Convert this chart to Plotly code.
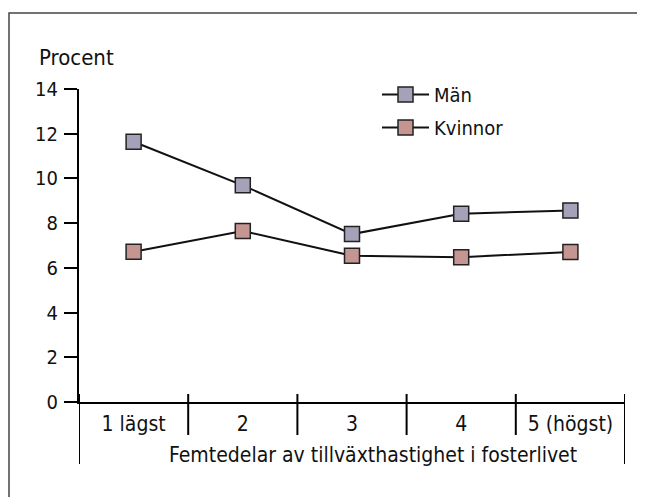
import plotly.graph_objects as go

categories = ["1 lägst", "2", "3", "4", "5 (högst)"]
man = [11.64, 9.69, 7.51, 8.42, 8.57]
kvinnor = [6.72, 7.65, 6.54, 6.48, 6.71]
y_ticks = [0, 2, 4, 6, 8, 10, 12, 14]
x_title = "Femtedelar av tillväxthastighet i fosterlivet"
y_title = "Procent"

W, H = 645, 497
OFF = 8  # page body margin
PL, PR, PT, PB = 79, 625, 89, 402
L, T = PL - OFF, PT - OFF
pw, ph = PR - PL, PB - PT
R, B = W - L - pw, H - T - ph
FONT = "DejaVu Sans Condensed, Liberation Sans Narrow, Arial Narrow, sans-serif"

def px_x(p):
    return (p - PL) / pw

def px_y(p):
    return (PB - p) / ph

xs = list(range(1, len(categories) + 1))

fig = go.Figure()
fig.add_trace(go.Scatter(
    x=xs, y=man, name="Män", mode="lines+markers", legendgroup="m",
    line=dict(color="#111111", width=2),
    marker=dict(symbol="square", size=15, color="#A4A1B9",
                line=dict(color="#222222", width=1.5)),
))
fig.add_trace(go.Scatter(
    x=xs, y=kvinnor, name="Kvinnor", mode="lines+markers", legendgroup="k",
    line=dict(color="#111111", width=2),
    marker=dict(symbol="square", size=15, color="#C59591",
                line=dict(color="#222222", width=1.5)),
))

shapes = []
shapes.append(dict(type="rect", xref="paper", yref="paper",
                   x0=px_x(9), x1=px_x(700), y0=px_y(560), y1=px_y(13),
                   line=dict(color="#444444", width=1.5), layer="below"))
n = len(categories)
for i in range(n + 1):
    xb = 0.5 + i
    outer = i == 0 or i == n
    shapes.append(dict(type="line", xref="x", yref="paper",
                       x0=xb, x1=xb,
                       y0=px_y(464 if outer else 435), y1=px_y(394),
                       line=dict(color="#000000", width=2)))

fig.update_layout(
    width=W, height=H,
    margin=dict(l=L, r=R, t=T, b=B),
    paper_bgcolor="white", plot_bgcolor="white",
    font=dict(family=FONT, size=20, color="#111111"),
    showlegend=True,
    legend=dict(x=px_x(377), y=px_y(75), xanchor="left", yanchor="top",
                bgcolor="rgba(0,0,0,0)", itemwidth=47,
                traceorder="grouped", tracegroupgap=4,
                font=dict(family=FONT, size=20, color="#111111")),
    xaxis=dict(range=[0.5, n + 0.5], tickvals=xs, ticktext=categories,
               showgrid=False, zeroline=False, showline=True,
               linecolor="#000000", linewidth=2, ticks="",
               ticklabelstandoff=2,
               tickfont=dict(family=FONT, size=21, color="#111111")),
    yaxis=dict(range=[0, 14], tickvals=y_ticks, showgrid=False,
               zeroline=False, showline=True, linecolor="#000000",
               linewidth=2, ticks="outside", ticklen=13, tickwidth=2,
               tickcolor="#000000", ticklabelstandoff=2,
               tickfont=dict(family=FONT, size=20, color="#111111")),
    shapes=shapes,
    annotations=[
        dict(text=y_title, xref="paper", yref="paper", x=px_x(37), y=px_y(57),
             xanchor="left", yanchor="middle", showarrow=False,
             font=dict(family=FONT, size=22, color="#111111")),
        dict(text=x_title, xref="paper", yref="paper", x=px_x(373), y=px_y(455),
             xanchor="center", yanchor="middle", showarrow=False,
             font=dict(family=FONT, size=21, color="#111111")),
    ],
)

fig.write_html("out.html")
